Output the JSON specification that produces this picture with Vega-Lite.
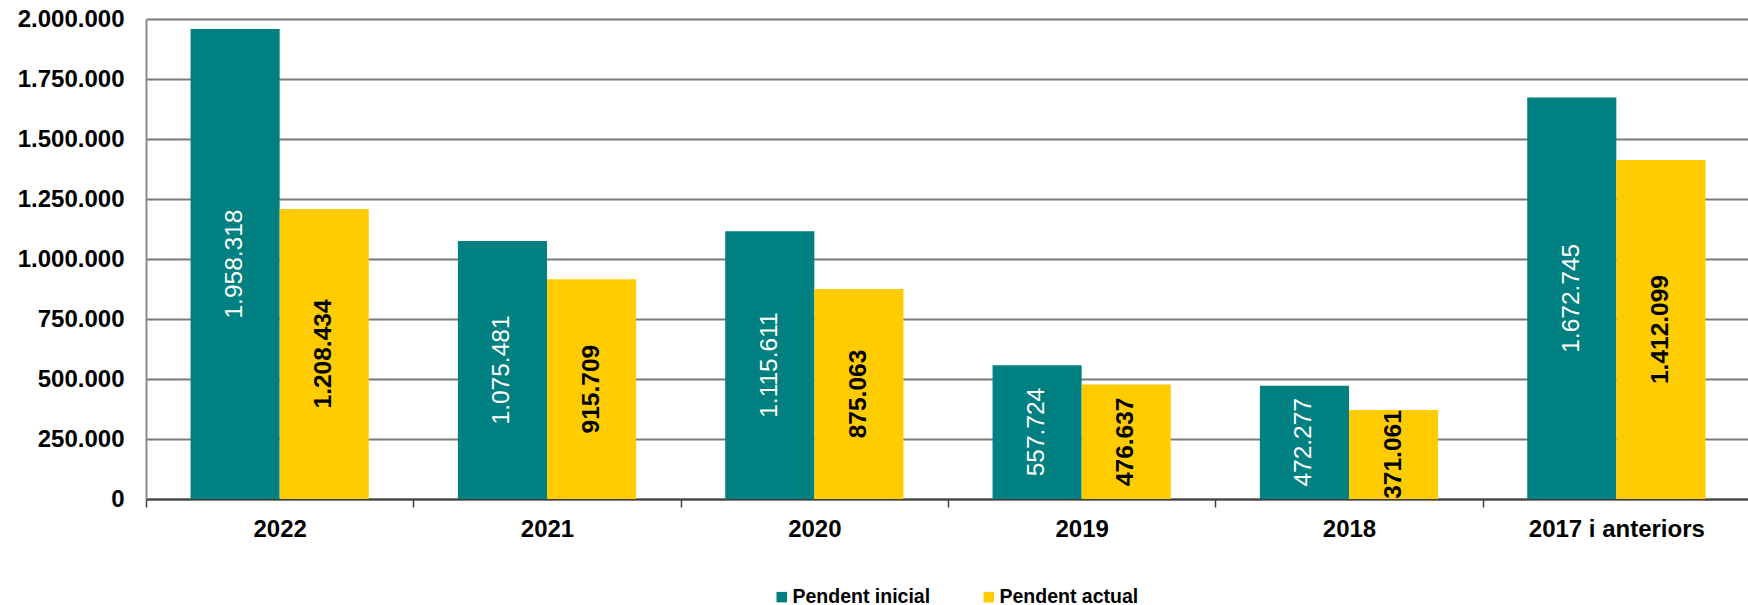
{
  "$schema": "https://vega.github.io/schema/vega-lite/v6.json",
  "width": 1604,
  "height": 480,
  "autosize": {"type": "none"},
  "padding": {"left": 146, "top": 19, "right": 0, "bottom": 106},
  "config": {
    "locale": {"number": {"decimal": ",", "thousands": ".", "grouping": [3], "currency": ["", " €"]}},
    "view": {"stroke": null},
    "font": "Liberation Sans"
  },
  "data": {
    "values": [
      {"any": "2022", "serie": "Pendent inicial", "valor": 1958318},
      {"any": "2022", "serie": "Pendent actual", "valor": 1208434},
      {"any": "2021", "serie": "Pendent inicial", "valor": 1075481},
      {"any": "2021", "serie": "Pendent actual", "valor": 915709},
      {"any": "2020", "serie": "Pendent inicial", "valor": 1115611},
      {"any": "2020", "serie": "Pendent actual", "valor": 875063},
      {"any": "2019", "serie": "Pendent inicial", "valor": 557724},
      {"any": "2019", "serie": "Pendent actual", "valor": 476637},
      {"any": "2018", "serie": "Pendent inicial", "valor": 472277},
      {"any": "2018", "serie": "Pendent actual", "valor": 371061},
      {"any": "2017 i anteriors", "serie": "Pendent inicial", "valor": 1672745},
      {"any": "2017 i anteriors", "serie": "Pendent actual", "valor": 1412099}
    ]
  },
  "encoding": {
    "x": {
      "field": "any",
      "type": "nominal",
      "sort": ["2022", "2021", "2020", "2019", "2018", "2017 i anteriors"],
      "scale": {"paddingInner": 0, "paddingOuter": 0},
      "axis": {
        "title": null,
        "labelAngle": 0,
        "labelFont": "Liberation Sans",
        "labelFontSize": 24,
        "labelFontWeight": "bold",
        "labelColor": "#000000",
        "labelPadding": 10,
        "ticks": true,
        "tickBand": "extent",
        "tickSize": 8,
        "tickColor": "#404040",
        "tickWidth": 1.5,
        "domainColor": "#404040",
        "domainWidth": 2,
        "grid": false
      }
    },
    "xOffset": {
      "field": "serie",
      "type": "nominal",
      "sort": ["Pendent inicial", "Pendent actual"],
      "scale": {"domain": ["Pendent inicial", "Pendent actual"], "paddingInner": 0, "paddingOuter": 0.5}
    }
  },
  "layer": [
    {
      "mark": {"type": "bar"},
      "encoding": {
        "y": {
          "field": "valor",
          "type": "quantitative",
          "scale": {"domain": [0, 2000000], "nice": false},
          "axis": {
            "title": null,
            "values": [0, 250000, 500000, 750000, 1000000, 1250000, 1500000, 1750000, 2000000],
            "format": ",d",
            "labelFont": "Liberation Sans",
            "labelFontSize": 24,
            "labelFontWeight": "bold",
            "labelColor": "#000000",
            "labelPadding": 22,
            "ticks": false,
            "grid": true,
            "gridColor": "#7a7a7a",
            "gridWidth": 2,
            "domainColor": "#8c8c8c",
            "domainWidth": 2
          }
        },
        "color": {
          "field": "serie",
          "type": "nominal",
          "sort": ["Pendent inicial", "Pendent actual"],
          "scale": {"domain": ["Pendent inicial", "Pendent actual"], "range": ["#008080", "#FFCC00"]},
          "legend": {
            "title": null,
            "orient": "none",
            "legendX": 626,
            "legendY": 568,
            "direction": "horizontal",
            "padding": 0,
            "symbolType": "square",
            "symbolSize": 110,
            "symbolStrokeWidth": 0,
            "labelFont": "Liberation Sans",
            "labelFontSize": 19.5,
            "labelFontWeight": "bold",
            "labelColor": "#000000",
            "labelOffset": 1,
            "columnPadding": 48
          }
        }
      }
    },
    {
      "transform": [{"filter": "datum.serie === 'Pendent inicial'"}],
      "mark": {"type": "text", "angle": 270, "align": "center", "baseline": "middle", "font": "Liberation Sans", "fontSize": 24.5, "color": "#FFFFFF"},
      "encoding": {
        "y": {"field": "valor", "type": "quantitative", "scale": {"domain": [0, 4000000], "nice": false}, "axis": null},
        "text": {"field": "valor", "type": "quantitative", "format": ",d"}
      }
    },
    {
      "transform": [{"filter": "datum.serie === 'Pendent actual'"}],
      "mark": {"type": "text", "angle": 270, "align": "center", "baseline": "middle", "font": "Liberation Sans", "fontSize": 24.5, "fontWeight": "bold", "color": "#000000"},
      "encoding": {
        "y": {"field": "valor", "type": "quantitative", "scale": {"domain": [0, 4000000], "nice": false}, "axis": null},
        "text": {"field": "valor", "type": "quantitative", "format": ",d"}
      }
    }
  ],
  "resolve": {"scale": {"y": "independent"}}
}
